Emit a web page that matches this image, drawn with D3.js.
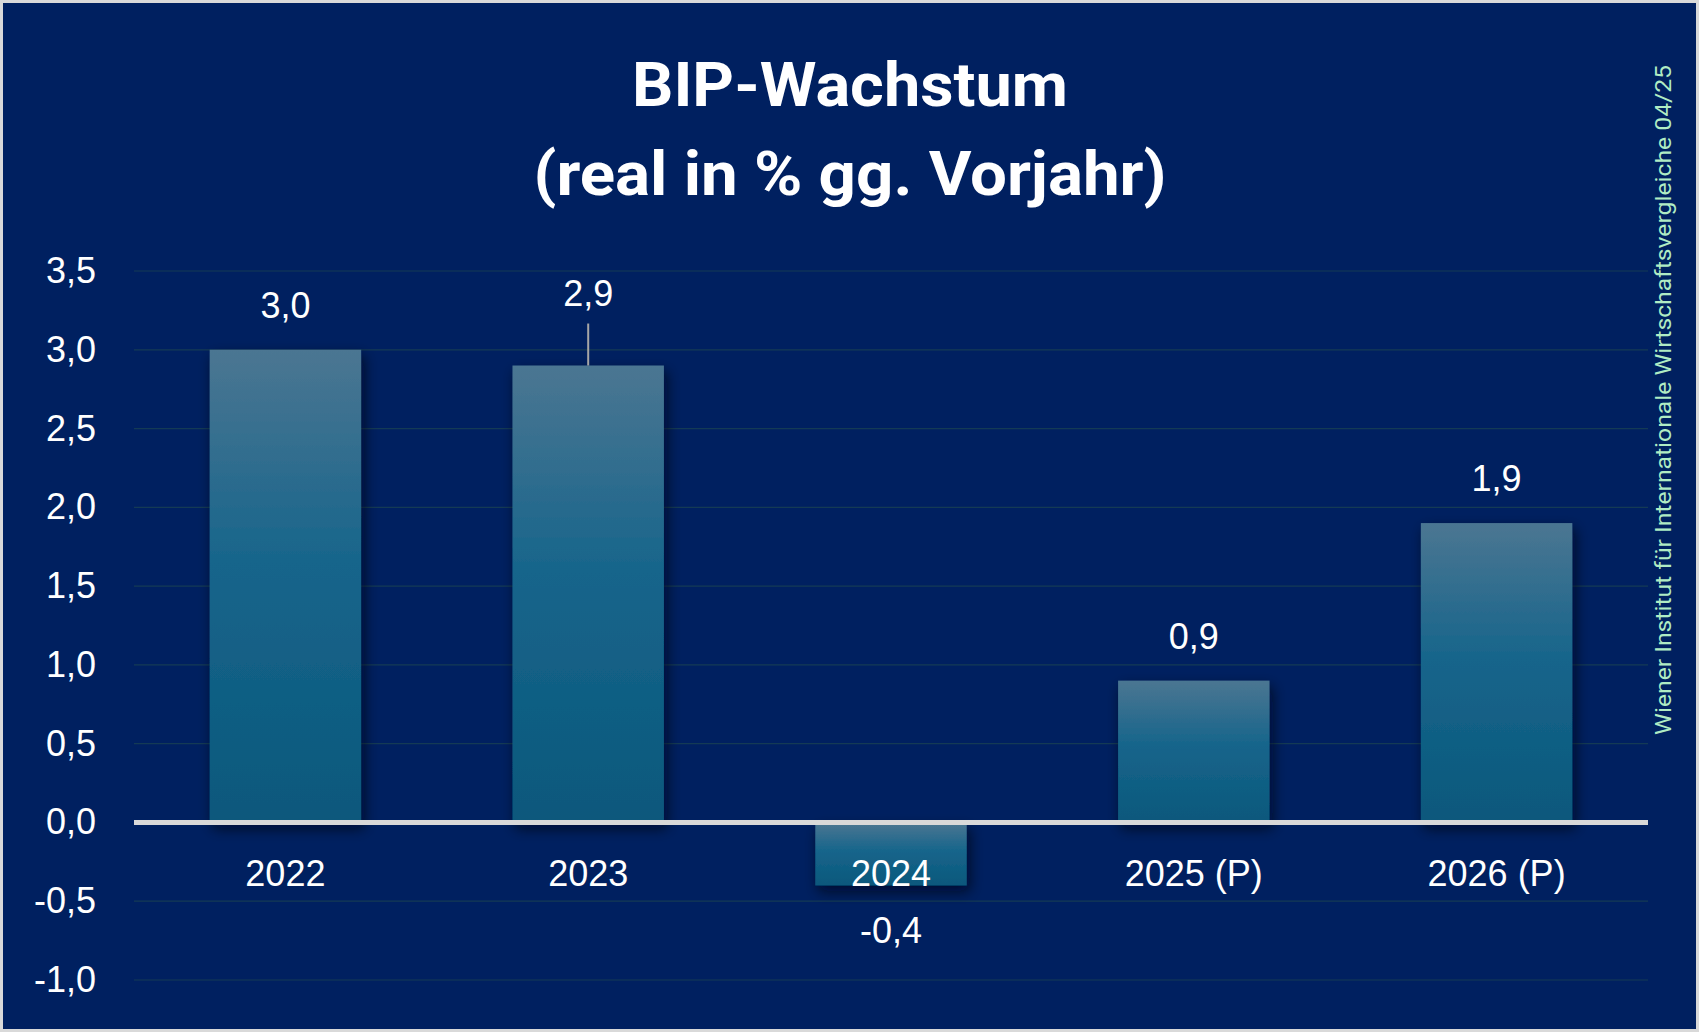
<!DOCTYPE html>
<head>
    <meta charset="utf-8">
    <title>BIP-Wachstum</title>
    <style>
        body { margin: 0; background: #d9d9d9; }
        svg { display: block; }
        text { font-family: "Liberation Sans", Roboto, sans-serif; fill: #fff; }
    </style>
</head>
<body>

    <svg width="1699" height="1032"></svg>

<script src="https://cdn.jsdelivr.net/npm/d3@7"></script>

<script>

    var years = ["2022", "2023", "2024", "2025 (P)", "2026 (P)"];
    var growth = [3.0, 2.9, -0.4, 0.9, 1.9];
    var yTicks = [-1.0, -0.5, 0.0, 0.5, 1.0, 1.5, 2.0, 2.5, 3.0, 3.5];
    var titleLines = ["BIP-Wachstum", "(real in % gg. Vorjahr)"];
    var source = "Wiener Institut für Internationale Wirtschaftsvergleiche 04/25";

    var svg = d3.select("svg"),
        width = +svg.attr("width"),
        height = +svg.attr("height");

    var fmt = function(v) { return d3.format(".1f")(v).replace(".", ",").replace("−", "-"); };

    // frame + background
    svg.append("rect")
        .attr("width", width).attr("height", height)
        .attr("fill", "#d9d9d9");
    svg.append("rect")
        .attr("x", 3).attr("y", 3)
        .attr("width", width - 6).attr("height", height - 6)
        .attr("fill", "#002060");

    var defs = svg.append("defs");

    var grad = defs.append("linearGradient")
        .attr("id", "barGrad")
        .attr("x1", 0).attr("y1", 0).attr("x2", 0).attr("y2", 1);
    grad.append("stop").attr("offset", "0%").attr("stop-color", "#4b7692");
    grad.append("stop").attr("offset", "45%").attr("stop-color", "#17658b");
    grad.append("stop").attr("offset", "100%").attr("stop-color", "#0a587c");

    var shadow = defs.append("filter")
        .attr("id", "shadow")
        .attr("x", "-20%").attr("y", "-20%")
        .attr("width", "150%").attr("height", "150%");
    shadow.append("feDropShadow")
        .attr("dx", 3).attr("dy", 6)
        .attr("stdDeviation", 7)
        .attr("flood-color", "#000010")
        .attr("flood-opacity", 0.65);

    var x = d3.scaleBand()
        .domain(years)
        .range([134, 1648])
        .paddingInner(0.5)
        .paddingOuter(0.25);

    var y = d3.scaleLinear()
        .domain([-1, 3.5])
        .range([980, 271]);

    // gridlines
    svg.append("g")
        .attr("class", "grid")
        .selectAll("line")
        .data(yTicks)
        .enter().append("line")
            .attr("x1", x.range()[0])
            .attr("x2", x.range()[1])
            .attr("y1", function(d) { return y(d); })
            .attr("y2", function(d) { return y(d); })
            .attr("stroke", "#143a55")
            .attr("stroke-width", 1.2);

    // y axis labels
    var yAxis = svg.append("g")
        .attr("transform", "translate(96,0)")
        .call(d3.axisLeft(y).tickValues(yTicks).tickSize(0).tickPadding(0).tickFormat(fmt));
    yAxis.select(".domain").remove();
    yAxis.selectAll("text")
        .attr("fill", "#fff")
        .style("font-size", "36px")
        .style("font-family", "'Liberation Sans', sans-serif");

    // bars
    svg.append("g")
        .attr("class", "bars")
        .selectAll("rect")
        .data(growth)
        .enter().append("rect")
            .attr("x", function(d, i) { return x(years[i]); })
            .attr("width", x.bandwidth())
            .attr("y", function(d) { return y(Math.max(0, d)); })
            .attr("height", function(d) { return Math.abs(y(d) - y(0)); })
            .attr("fill", "url(#barGrad)")
            .attr("filter", "url(#shadow)");

    // zero line
    svg.append("line")
        .attr("x1", x.range()[0]).attr("x2", x.range()[1])
        .attr("y1", y(0)).attr("y2", y(0))
        .attr("stroke", "#d9d9d9")
        .attr("stroke-width", 5);

    // category labels
    svg.append("g")
        .selectAll("text")
        .data(years)
        .enter().append("text")
            .attr("x", function(d) { return x(d) + x.bandwidth() / 2; })
            .attr("y", y(0) + 64)
            .attr("text-anchor", "middle")
            .style("font-size", "36px")
            .text(function(d) { return d; });

    // data labels (2023 label lifted with a leader line)
    var lifted = 1;
    svg.append("g")
        .selectAll("text")
        .data(growth)
        .enter().append("text")
            .attr("x", function(d, i) { return x(years[i]) + x.bandwidth() / 2; })
            .attr("y", function(d, i) {
                if (d < 0) return y(d) + 58;
                return y(d) - (i === lifted ? 60 : 32);
            })
            .attr("text-anchor", "middle")
            .style("font-size", "36px")
            .text(function(d) { return fmt(d); });

    svg.append("line")
        .attr("x1", x(years[lifted]) + x.bandwidth() / 2)
        .attr("x2", x(years[lifted]) + x.bandwidth() / 2)
        .attr("y1", y(growth[lifted]) - 42)
        .attr("y2", y(growth[lifted]))
        .attr("stroke", "#a6a6a6")
        .attr("stroke-width", 2);

    // title
    var tl = [436, 633];
    svg.append("g")
        .selectAll("text")
        .data(titleLines)
        .enter().append("text")
            .attr("x", 850)
            .attr("y", function(d, i) { return i ? 195 : 106; })
            .attr("text-anchor", "middle")
            .attr("textLength", function(d, i) { return tl[i]; })
            .attr("lengthAdjust", "spacingAndGlyphs")
            .style("font-family", "Roboto, sans-serif")
            .style("font-size", "62px")
            .style("font-weight", "bold")
            .text(function(d) { return d; });

    // source, vertical
    svg.append("text")
        .attr("transform", "translate(1671,735) rotate(-90)")
        .attr("textLength", 670)
        .attr("lengthAdjust", "spacingAndGlyphs")
        .style("font-family", "Roboto, sans-serif")
        .style("font-size", "22px")
        .style("fill", "#b0ecc4")
        .text(source);

</script>

</body>
